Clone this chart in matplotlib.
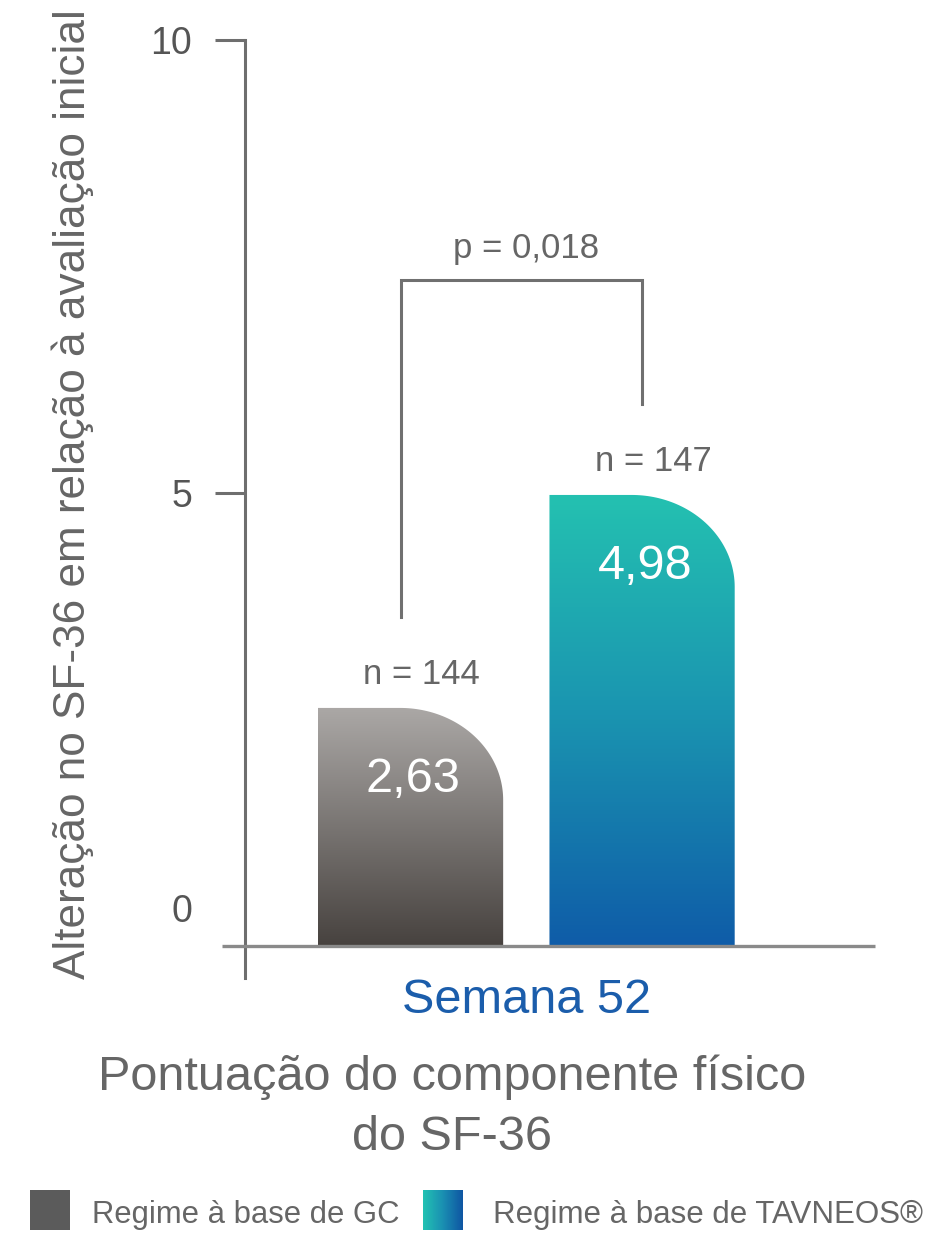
import numpy as np
import matplotlib
matplotlib.use("Agg")
import matplotlib.pyplot as plt
from matplotlib.colors import LinearSegmentedColormap
from matplotlib.path import Path
from matplotlib.patches import PathPatch
import matplotlib.transforms as mtransforms

# ---------------- data ----------------
groups = ["Regime à base de GC", "Regime à base de TAVNEOS®"]
values = [2.63, 4.98]
value_labels = ["2,63", "4,98"]
n_labels = ["n = 144", "n = 147"]
p_label = "p = 0,018"
yticks = [0, 5, 10]
ytick_labels = ["0", "5", "10"]
x_category = "Semana 52"
ylabel = "Alteração no SF-36 em relação à avaliação inicial"
xlabel = "Pontuação do componente físico\ndo SF-36"

# ---------------- style ----------------
plt.rcParams['font.family'] = ['Liberation Sans', 'DejaVu Sans']
GRAY_TXT = '#666666'
AXIS_COL = '#6e6e6e'
bar_cmaps = [
    LinearSegmentedColormap.from_list('gc', ['#47423f', '#aba8a6']),
    LinearSegmentedColormap.from_list('tav', ['#0f5ca8', '#1a93b0', '#24c1b1']),
]

W, H = 933, 1233
fig = plt.figure(figsize=(W / 100, H / 100), dpi=100)
ax = fig.add_axes([245 / W, (H - 978) / H, (875 - 245) / W, (978 - 40) / H])
XLIM = (-0.715, 2.006)
YLIM = (-0.35, 10)
ax.set_xlim(*XLIM)
ax.set_ylim(*YLIM)

positions = np.arange(len(values))
bar_w = 0.8

# pixel scale for circular-looking rounded corners
p0 = ax.transData.transform((0, 0))
p1 = ax.transData.transform((1, 1))
px_x = p1[0] - p0[0]
px_y = p1[1] - p0[1]
rx = 103 / px_x
ry = 92 / px_y


def rounded_bar_path(x0, x1, top, rx, ry, n=60):
    ry_ = min(ry, top)
    t = np.linspace(np.pi / 2, 0, n)
    cx, cy = x1 - rx, top - ry_
    arc = np.column_stack([cx + rx * np.cos(t), cy + ry_ * np.sin(t)])
    verts = np.vstack([[x0, 0], [x0, top], arc, [x1, 0], [x0, 0]])
    codes = [Path.MOVETO] + [Path.LINETO] * (len(verts) - 2) + [Path.CLOSEPOLY]
    return Path(verts, codes)


grad = np.linspace(0, 1, 256).reshape(-1, 1)
for pos, v, cmap in zip(positions, values, bar_cmaps):
    x0, x1 = pos - bar_w / 2, pos + bar_w / 2
    patch = PathPatch(rounded_bar_path(x0, x1, v, rx, ry), facecolor='none',
                      edgecolor='none', zorder=2)
    ax.add_patch(patch)
    im = ax.imshow(grad, extent=[x0, x1, 0, v], origin='lower', aspect='auto',
                   cmap=cmap, zorder=2, interpolation='bilinear')
    im.set_clip_path(patch)

ax.set_xlim(*XLIM)
ax.set_ylim(*YLIM)

# value labels inside bars
for pos, v, lab in zip(positions, values, value_labels):
    ax.annotate(lab, xy=(pos, v), xytext=(2, -84 * 0.72), textcoords='offset points',
                ha='center', va='baseline', color='white', fontsize=35, zorder=4)

# n labels above bars
for pos, v, lab in zip(positions, values, n_labels):
    ax.annotate(lab, xy=(pos, v), xytext=(8, 24 * 0.72), textcoords='offset points',
                ha='center', va='baseline', color=GRAY_TXT, fontsize=25, zorder=4)

# significance bracket
bracket_y = 7.35
leg_gap = 1.0
bx = [positions[0] - 0.04, positions[0] - 0.04, positions[1], positions[1]]
by = [values[0] + leg_gap, bracket_y, bracket_y, values[1] + leg_gap]
ax.plot(bx, by, color='#707070', lw=2.2, solid_joinstyle='miter', zorder=3)
ax.annotate(p_label, xy=((bx[1] + bx[2]) / 2, bracket_y), xytext=(3, 22 * 0.72),
            textcoords='offset points', ha='center', va='baseline',
            color=GRAY_TXT, fontsize=25)

# baseline at zero (extends left of the y axis)
ax.plot([XLIM[0] - 23 / px_x, XLIM[1]], [0, 0], color='#8a8a8a', lw=2.4,
        clip_on=False, zorder=3, solid_capstyle='butt')

# spines
for s in ['top', 'right', 'bottom']:
    ax.spines[s].set_visible(False)
ax.spines['left'].set_color(AXIS_COL)
ax.spines['left'].set_linewidth(2.2)
ax.spines['left'].set_bounds(YLIM[0], YLIM[1])

# y ticks
ax.set_yticks(yticks)
ax.set_yticklabels(ytick_labels)
ax.tick_params(axis='y', length=30 * 0.72, width=2.2, color=AXIS_COL, pad=16.5,
               labelsize=27, labelcolor='#555555')
ticks = ax.yaxis.get_major_ticks()
ticks[0].tick1line.set_visible(False)
ticks[0].label1.set_transform(ticks[0].label1.get_transform() +
                              mtransforms.ScaledTranslation(0, 0.38, fig.dpi_scale_trans))

# x category label
ax.set_xticks([(positions[0] + positions[1]) / 2])
ax.set_xticklabels([x_category])
ax.tick_params(axis='x', length=0, pad=0, labelsize=35, labelcolor='#1b5dab')

# axis titles
fig.text(73 / W, (H - 494) / H, ylabel, rotation=90, ha='center', va='center',
         fontsize=31.8, color=GRAY_TXT)
fig.text(452 / W, (H - 1054) / H, xlabel, ha='center', va='top', fontsize=35,
         color=GRAY_TXT, linespacing=1.45)

# legend (manual swatches)
sw1 = fig.add_axes([30 / W, (H - 1230) / H, 40 / W, 40 / H])
sw1.imshow(np.zeros((2, 2)), cmap=LinearSegmentedColormap.from_list('g', ['#5b5b5b', '#5b5b5b']),
           aspect='auto')
sw1.axis('off')
sw2 = fig.add_axes([423 / W, (H - 1230) / H, 39 / W, 40 / H])
sw2.imshow(np.linspace(0, 1, 64).reshape(1, -1),
           cmap=LinearSegmentedColormap.from_list('t', ['#22c2b2', '#1a8fb2', '#0f56a3']),
           aspect='auto')
sw2.axis('off')
fig.text(92 / W, (H - 1223) / H, groups[0], ha='left', va='baseline', fontsize=22.3,
         color=GRAY_TXT)
fig.text(493 / W, (H - 1223) / H, groups[1], ha='left', va='baseline', fontsize=22.5,
         color=GRAY_TXT)

fig.savefig('out.png', dpi=100)
